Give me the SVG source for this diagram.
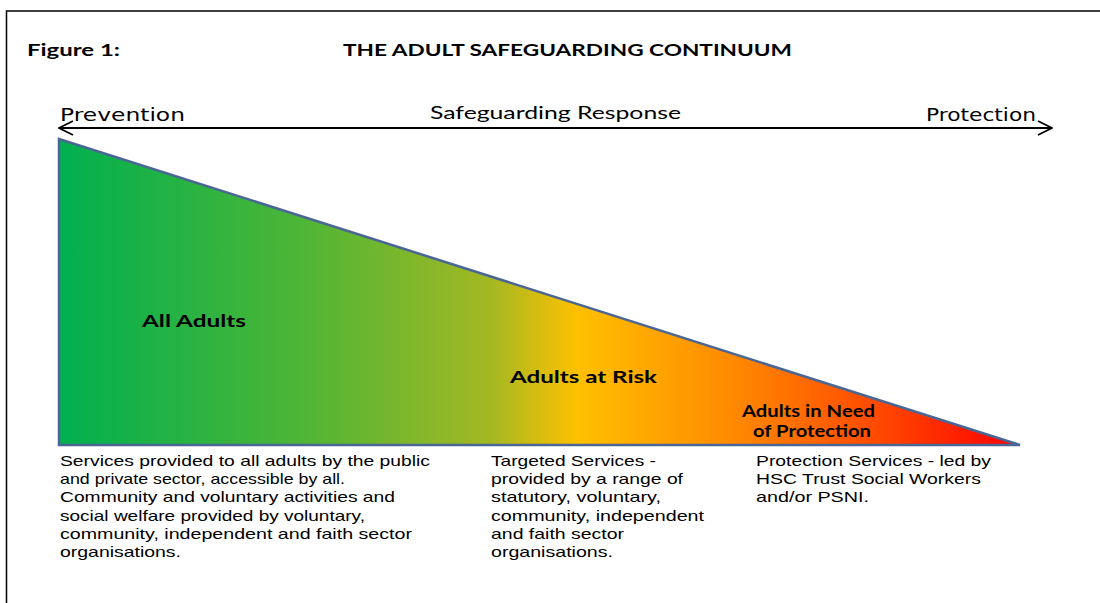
<svg xmlns="http://www.w3.org/2000/svg" width="1100" height="603" viewBox="0 0 1100 603">
<style>
.h{font-family:Lato,"Liberation Sans",sans-serif;font-weight:bold;fill:#000}
.e{font-family:"DejaVu Sans",sans-serif;fill:#000;font-size:17px}
.c{font-family:Lato,"Liberation Sans",sans-serif;fill:#000;font-size:18px}
.b{font-family:"Liberation Sans",Arial,sans-serif;fill:#000;font-size:15px}
.lbl{font-family:Lato,"Liberation Sans",sans-serif;font-weight:bold;fill:#000;font-size:17px}
</style>
<defs>
<linearGradient id="g" x1="59" y1="0" x2="1020" y2="0" gradientUnits="userSpaceOnUse">
<stop offset="0" stop-color="#00b050"/>
<stop offset="0.25" stop-color="#4db536"/>
<stop offset="0.45" stop-color="#a4b823"/>
<stop offset="0.54" stop-color="#ffc000"/>
<stop offset="0.7" stop-color="#ff8a00"/>
<stop offset="0.85" stop-color="#ff4a00"/>
<stop offset="1" stop-color="#ff0000"/>
</linearGradient>
<marker id="ah" viewBox="0 0 16 16" refX="15" refY="8" markerWidth="16" markerHeight="16" markerUnits="userSpaceOnUse" orient="auto-start-reverse">
<path d="M1,1 L15,8 L1,15" fill="none" stroke="#000" stroke-width="1.8"/>
</marker>
</defs>
<rect width="1100" height="603" fill="#fff"/>
<rect x="6.5" y="11" width="1200" height="700" fill="none" stroke="#000" stroke-width="1.5"/>
<g id="title">
<text class="h" x="27" y="56" font-size="17" textLength="93" lengthAdjust="spacingAndGlyphs">Figure 1:</text>
<text class="h" x="343" y="56" font-size="17" textLength="449" lengthAdjust="spacingAndGlyphs">THE ADULT SAFEGUARDING CONTINUUM</text>
</g>
<g id="connectors">
<line x1="59" y1="128" x2="1052" y2="128" stroke="#000" stroke-width="1.8" marker-start="url(#ah)" marker-end="url(#ah)"/>
</g>
<g id="axis-labels">
<text class="e" x="60" y="121" textLength="125" lengthAdjust="spacingAndGlyphs">Prevention</text>
<text class="c" x="430" y="119" textLength="251" lengthAdjust="spacingAndGlyphs">Safeguarding  Response</text>
<text class="e" x="926" y="121" textLength="110" lengthAdjust="spacingAndGlyphs">Protection</text>
</g>
<g id="triangle">
<polygon points="59,139 59,445 1020,445" fill="url(#g)" stroke="#4a6694" stroke-width="2.5" stroke-linejoin="miter"/>
</g>
<g id="all-adults">
<text class="lbl" x="142" y="327" textLength="104" lengthAdjust="spacingAndGlyphs">All Adults</text>
</g>
<g id="adults-at-risk">
<text class="lbl" x="510" y="383" textLength="147" lengthAdjust="spacingAndGlyphs">Adults at Risk</text>
</g>
<g id="adults-in-need">
<text class="lbl" x="742" y="417" font-size="15" textLength="133" lengthAdjust="spacingAndGlyphs">Adults in Need</text>
<text class="lbl" x="753" y="437" font-size="15" textLength="118" lengthAdjust="spacingAndGlyphs">of Protection</text>
</g>
<g id="desc-1">
<text class="b" x="60" y="466" textLength="370" lengthAdjust="spacingAndGlyphs">Services provided to all adults by the public</text>
<text class="b" x="60" y="484" textLength="285" lengthAdjust="spacingAndGlyphs">and private sector, accessible by all.</text>
<text class="b" x="60" y="502" textLength="335" lengthAdjust="spacingAndGlyphs">Community and voluntary activities and</text>
<text class="b" x="60" y="521" textLength="305" lengthAdjust="spacingAndGlyphs">social welfare provided by voluntary,</text>
<text class="b" x="60" y="539" textLength="352" lengthAdjust="spacingAndGlyphs">community, independent and faith sector</text>
<text class="b" x="60" y="557" textLength="121" lengthAdjust="spacingAndGlyphs">organisations.</text>
</g>
<g id="desc-2">
<text class="b" x="491" y="466" textLength="165" lengthAdjust="spacingAndGlyphs">Targeted Services -</text>
<text class="b" x="491" y="484" textLength="192" lengthAdjust="spacingAndGlyphs">provided by a range of</text>
<text class="b" x="491" y="502" textLength="170" lengthAdjust="spacingAndGlyphs">statutory, voluntary,</text>
<text class="b" x="491" y="521" textLength="213" lengthAdjust="spacingAndGlyphs">community, independent</text>
<text class="b" x="491" y="539" textLength="133" lengthAdjust="spacingAndGlyphs">and faith sector</text>
<text class="b" x="491" y="557" textLength="122" lengthAdjust="spacingAndGlyphs">organisations.</text>
</g>
<g id="desc-3">
<text class="b" x="756" y="466" textLength="235" lengthAdjust="spacingAndGlyphs">Protection Services - led by</text>
<text class="b" x="756" y="484" textLength="225" lengthAdjust="spacingAndGlyphs">HSC Trust Social Workers</text>
<text class="b" x="756" y="502" textLength="113" lengthAdjust="spacingAndGlyphs">and/or PSNI.</text>
</g>
</svg>
